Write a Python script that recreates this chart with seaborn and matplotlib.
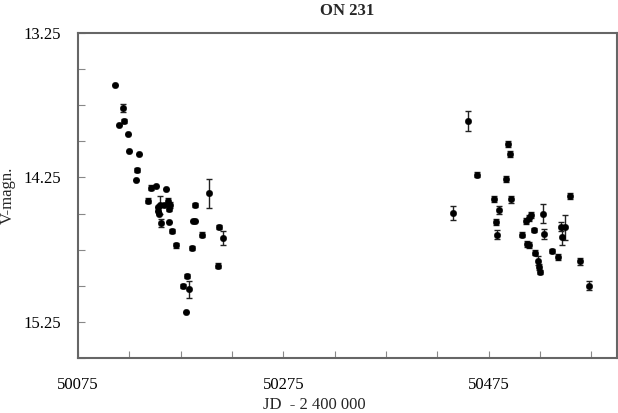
import numpy as np
import pandas as pd
import matplotlib
matplotlib.use("Agg")
import matplotlib.pyplot as plt
import seaborn as sns

# Julian dates (JD - 2 400 000)
jd = [50111, 50119, 50115, 50120, 50124, 50125, 50134, 50132, 50131.5, 50146,
      50151, 50161, 50143, 50203, 50189, 50155, 50159, 50163, 50165, 50152.5,
      50164, 50153, 50154, 50156, 50164, 50166.5, 50170, 50187, 50189, 50186,
      50196, 50212, 50216, 50211, 50181, 50177, 50183, 50180,
      50440, 50455, 50464, 50480, 50482, 50483, 50485, 50492, 50494, 50496,
      50497, 50507, 50511, 50512, 50514, 50514, 50516, 50519, 50520.5, 50523,
      50524, 50525, 50527.5, 50529, 50537, 50543, 50545, 50546, 50549, 50554,
      50563.5, 50573]
# V magnitudes
vmag = [13.61, 13.77, 13.89, 13.86, 13.95, 14.07, 14.09, 14.20, 14.27, 14.32,
        14.31, 14.33, 14.41, 14.36, 14.44, 14.44, 14.44, 14.41, 14.44, 14.455,
        14.465, 14.485, 14.50, 14.565, 14.56, 14.62, 14.72, 14.55, 14.55, 14.74,
        14.645, 14.595, 14.67, 14.86, 14.93, 15.00, 15.025, 15.18,
        14.495, 13.86, 14.23, 14.40, 14.56, 14.645, 14.475, 14.26, 14.02, 14.09,
        14.40, 14.645, 14.55, 14.71, 14.53, 14.72, 14.51, 14.615, 14.77, 14.825,
        14.87, 14.905, 14.50, 14.64, 14.76, 14.80, 14.59, 14.66, 14.595, 14.38,
        14.83, 15.00]
# errors (mag)
verr = [0.0, 0.03, 0.0, 0.015, 0.0, 0.0, 0.0, 0.015, 0.0, 0.02,
        0.0, 0.0, 0.015, 0.10, 0.015, 0.065, 0.0, 0.015, 0.02, 0.0,
        0.015, 0.0, 0.0, 0.03, 0.0, 0.015, 0.015, 0.0, 0.0, 0.015,
        0.015, 0.015, 0.05, 0.015, 0.015, 0.015, 0.06, 0.0,
        0.05, 0.07, 0.015, 0.02, 0.02, 0.03, 0.03, 0.02, 0.02, 0.02,
        0.025, 0.02, 0.02, 0.02, 0.02, 0.02, 0.02, 0.015, 0.015, 0.03,
        0.02, 0.015, 0.065, 0.035, 0.015, 0.02, 0.03, 0.06, 0.085, 0.02,
        0.025, 0.03]

x_ticks = list(range(50075, 50601, 50))
x_labelled = [50075, 50275, 50475]
y_ticks = [13.25, 13.5, 13.75, 14.0, 14.25, 14.5, 14.75, 15.0, 15.25, 15.5]
y_labelled = [13.25, 14.25, 15.25]

df = pd.DataFrame({"jd": jd, "vmag": vmag, "err": verr})

sns.set_style("white")
plt.rcParams["font.family"] = ["Liberation Serif", "DejaVu Serif"]

fig = plt.figure(figsize=(6.18, 4.13), dpi=100)
ax = fig.add_axes([78 / 618, 1 - 358 / 413, 539 / 618, 325 / 413])

ax.errorbar(df["jd"], df["vmag"], yerr=df["err"], fmt="none",
            ecolor="#222222", elinewidth=1.0, capsize=2.5, capthick=1.0, zorder=2)
sns.scatterplot(data=df, x="jd", y="vmag", ax=ax, color="black", s=22,
                edgecolor="black", linewidth=0.3, zorder=3)

ax.set_xlim(50075, 50600)
ax.set_ylim(15.5, 13.25)

ax.set_xticks(x_ticks)
ax.set_xticklabels([str(t) if t in x_labelled else "" for t in x_ticks])
ax.set_yticks(y_ticks)
ax.set_yticklabels([f"{t:.2f}" if t in y_labelled else "" for t in y_ticks])

ax.tick_params(axis="both", direction="in", length=5, width=0.8,
               color="#888888", labelsize=12, labelcolor="black",
               bottom=True, left=True, top=False, right=False)
ax.tick_params(axis="x", pad=14)
ax.tick_params(axis="y", pad=12)

for sp in ax.spines.values():
    sp.set_color("#666666")
    sp.set_linewidth(1.5)

ax.set_xlabel("JD  - 2 400 000", fontsize=12)
ax.xaxis.set_label_coords(0.438, -0.12)
ax.set_ylabel("V-magn.", fontsize=12)
ax.yaxis.set_label_coords(-0.115, 0.5)
ax.set_title("ON 231", fontsize=12, fontweight="bold", pad=13)

fig.savefig("out.png", dpi=100)
